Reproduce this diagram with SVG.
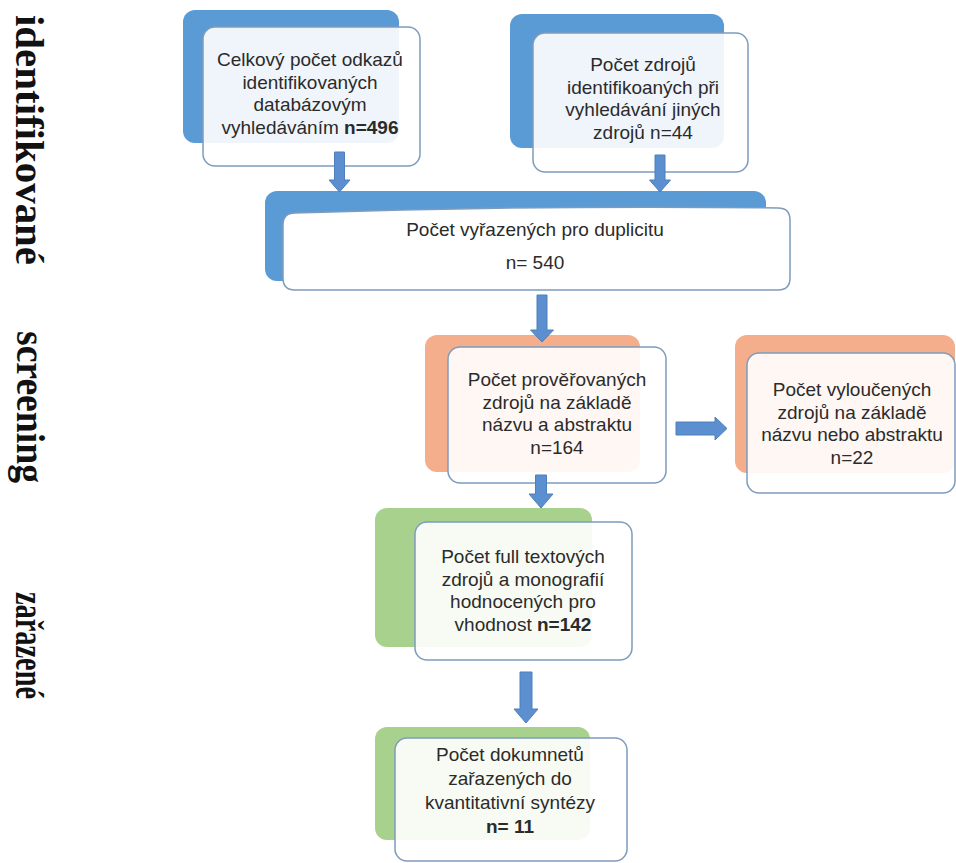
<svg xmlns="http://www.w3.org/2000/svg" width="956" height="863" viewBox="0 0 956 863">
<style>
.bg{fill:#ffffff}
.back-blue{fill:#5b9bd5}
.back-orange{fill:#f4ae8c}
.back-green{fill:#a9d18e}
.front{fill:#ffffff;fill-opacity:0.9;stroke:#7d9cbd;stroke-width:1.5}
.solid{fill-opacity:1}
.t{font-family:"Liberation Sans",Arial,sans-serif;font-size:19px;fill:#2b2b2b;text-anchor:middle}
.b{font-weight:bold}
.side{font-family:"Liberation Serif","Times New Roman",serif;font-size:40px;font-weight:bold;fill:#111}
.arr{fill:#5b8fcf;stroke:#4f80bb;stroke-width:1}
</style>
<rect class="bg" x="0" y="0" width="956" height="863"/>

<g id="labels">
  <text class="side" transform="translate(16,15) rotate(90)" textLength="250" lengthAdjust="spacingAndGlyphs">identifikované</text>
  <text class="side" transform="translate(17,331) rotate(90)" textLength="152" lengthAdjust="spacingAndGlyphs">screening</text>
  <text class="side" transform="translate(16,592) rotate(90)" textLength="107" lengthAdjust="spacingAndGlyphs">zařazené</text>
</g>

<g id="node-db">
  <rect class="back-blue" x="183" y="10" width="216" height="133" rx="12"/>
  <rect class="front" x="203" y="27" width="217" height="139" rx="12"/>
  <text class="t" x="310" y="66">Celkový počet odkazů</text>
  <text class="t" x="310" y="88.5">identifikovaných</text>
  <text class="t" x="310" y="111">databázovým</text>
  <text class="t" x="310" y="133.5">vyhledáváním <tspan class="b">n=496</tspan></text>
</g>

<g id="node-other">
  <rect class="back-blue" x="510" y="14" width="214" height="134" rx="12"/>
  <rect class="front" x="533" y="33" width="215" height="139" rx="12"/>
  <text class="t" x="643" y="71">Počet zdrojů</text>
  <text class="t" x="643" y="93.5">identifikoaných při</text>
  <text class="t" x="643" y="116">vyhledávání jiných</text>
  <text class="t" x="643" y="138.5">zdrojů n=44</text>
</g>

<g id="node-dup">
  <rect class="back-blue" x="265" y="191" width="501" height="90" rx="12"/>
  <path class="front solid" d="M295 213 Q540 205 778 208 Q790 208 790 220 L790 278 Q790 290 778 290 L295 290 Q283 290 283 278 L283 225 Q283 213 295 213 Z"/>
  <text class="t" x="535" y="236">Počet vyřazených pro duplicitu</text>
  <text class="t" x="535" y="269">n= 540</text>
</g>

<g id="node-screened">
  <rect class="back-orange" x="425" y="335" width="215" height="137" rx="12"/>
  <rect class="front" x="448" y="347" width="218" height="136" rx="12"/>
  <text class="t" x="557" y="386">Počet prověřovaných</text>
  <text class="t" x="557" y="408.5">zdrojů na základě</text>
  <text class="t" x="557" y="431">názvu a abstraktu</text>
  <text class="t" x="557" y="453.5">n=164</text>
</g>

<g id="node-excluded">
  <rect class="back-orange" x="735" y="335" width="220" height="138" rx="12"/>
  <rect class="front" x="747" y="353" width="208" height="140" rx="12"/>
  <text class="t" x="852" y="396">Počet vyloučených</text>
  <text class="t" x="852" y="418.5">zdrojů na základě</text>
  <text class="t" x="852" y="441">názvu nebo abstraktu</text>
  <text class="t" x="852" y="463.5">n=22</text>
</g>

<g id="node-fulltext">
  <rect class="back-green" x="375" y="508" width="217" height="139" rx="12"/>
  <rect class="front" x="415" y="522" width="217" height="138" rx="12"/>
  <text class="t" x="523" y="563">Počet full textových</text>
  <text class="t" x="523" y="585.5">zdrojů a monografií</text>
  <text class="t" x="523" y="608">hodnocených pro</text>
  <text class="t" x="523" y="630.5">vhodnost <tspan class="b">n=142</tspan></text>
</g>

<g id="node-included">
  <rect class="back-green" x="375" y="727" width="215" height="113" rx="12"/>
  <rect class="front" x="395" y="738" width="232" height="123" rx="12"/>
  <text class="t" x="510" y="761">Počet dokumnetů</text>
  <text class="t" x="510" y="785">zařazených do</text>
  <text class="t" x="510" y="809">kvantitativní syntézy</text>
  <text class="t b" x="510" y="833">n= 11</text>
</g>

<g id="connectors">
  <polygon class="arr" points="334.5,152 344.5,152 344.5,180 350,180 339.5,192 329,180 334.5,180"/>
  <polygon class="arr" points="655,155 665,155 665,180 670.5,180 660,192 649.5,180 655,180"/>
  <polygon class="arr" points="537,295 547,295 547,330 553.5,330 542,342 530.5,330 537,330"/>
  <polygon class="arr" points="535.5,475 546.5,475 546.5,494 553,494 541,508 529,494 535.5,494"/>
  <polygon class="arr" points="520,672 532,672 532,709 538,709 526,723 514,709 520,709"/>
  <polygon class="arr" points="676,422 715,422 715,417 727,428.5 715,440 715,435 676,435"/>
</g>
</svg>
